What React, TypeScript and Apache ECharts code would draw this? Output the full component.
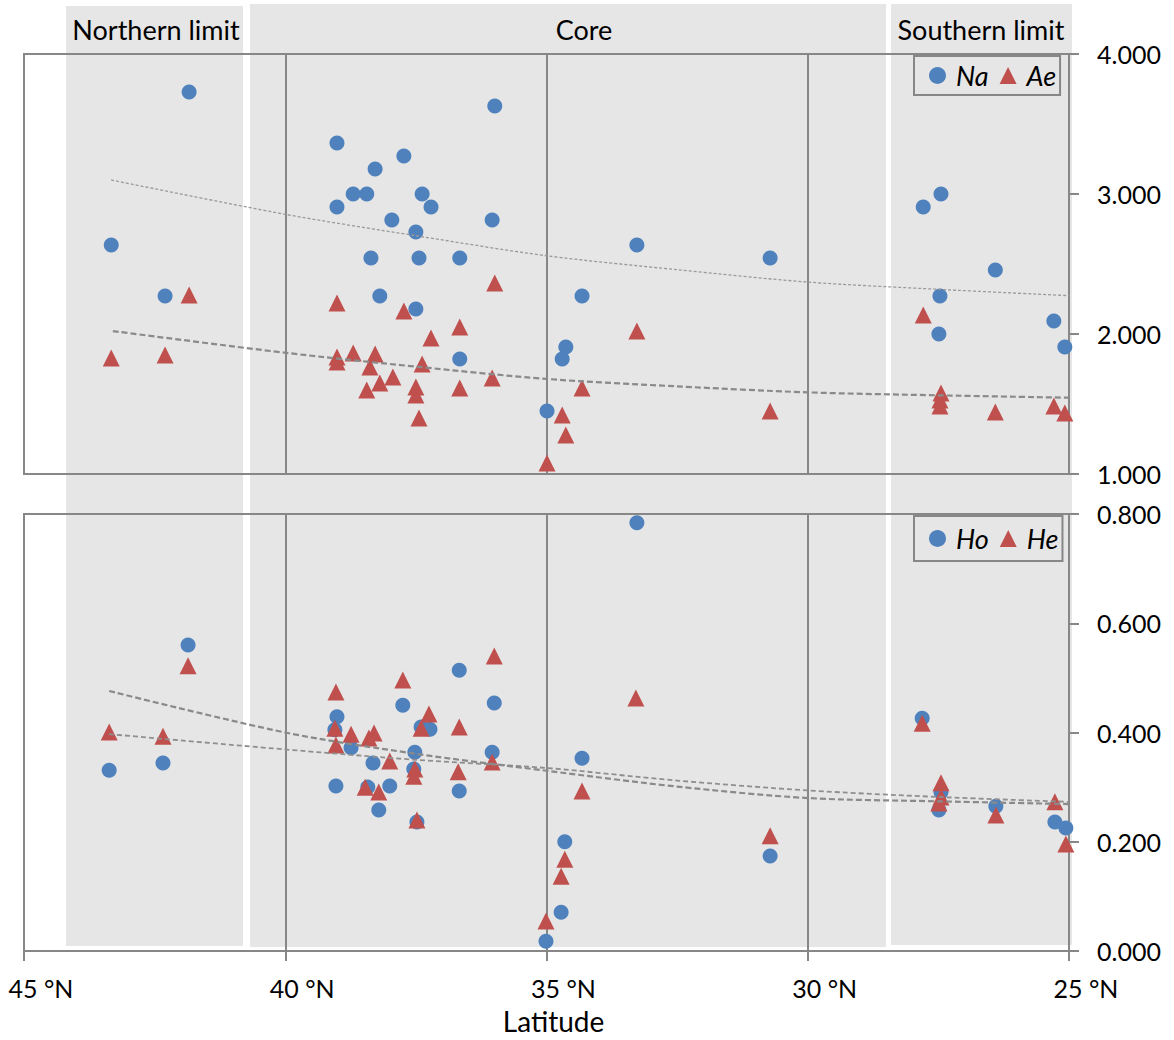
import React, { useEffect, useRef } from "react";
import * as echarts from "echarts";

// ---------- data (latitude °N, value) ----------
const naPoints: number[][] = [
  [43.33, 2.636], [42.3, 2.271], [41.84, 3.729], [39.01, 3.364], [39.01, 2.907],
  [38.7, 3.0], [38.44, 3.0], [38.28, 3.179], [38.36, 2.543], [38.19, 2.271],
  [37.96, 2.814], [37.73, 3.271], [37.5, 2.729], [37.44, 2.543], [37.5, 2.179],
  [37.38, 3.0], [37.21, 2.907], [36.66, 2.543], [36.66, 1.821], [35.99, 3.629],
  [36.04, 2.814], [34.99, 1.45], [34.7, 1.821], [34.63, 1.907], [34.32, 2.271],
  [33.27, 2.636], [30.72, 2.543], [27.79, 2.907], [27.45, 3.0], [27.47, 2.271],
  [27.49, 2.0], [26.41, 2.457], [25.29, 2.093], [25.08, 1.907],
];
const aePoints: number[][] = [
  [43.33, 1.829], [42.3, 1.85], [41.84, 2.279], [39.01, 2.221], [39.01, 1.836],
  [39.01, 1.8], [38.7, 1.864], [38.44, 1.6], [38.38, 1.764], [38.28, 1.857],
  [38.19, 1.65], [37.94, 1.693], [37.73, 2.164], [37.5, 1.621], [37.5, 1.564],
  [37.44, 1.4], [37.38, 1.786], [37.21, 1.971], [36.66, 2.05], [36.66, 1.614],
  [35.99, 2.364], [36.04, 1.686], [34.99, 1.079], [34.7, 1.421], [34.63, 1.279],
  [34.32, 1.614], [33.27, 2.021], [30.72, 1.45], [27.79, 2.136], [27.45, 1.579],
  [27.47, 1.529], [27.47, 1.486], [26.41, 1.443], [25.29, 1.486], [25.08, 1.436],
];
const hoPoints: number[][] = [
  [43.37, 0.331], [42.34, 0.344], [41.86, 0.56], [39.01, 0.429], [39.05, 0.405],
  [38.74, 0.372], [39.03, 0.302], [38.32, 0.344], [38.42, 0.3], [38.21, 0.258],
  [38.0, 0.302], [37.75, 0.45], [37.52, 0.364], [37.54, 0.333], [37.48, 0.236],
  [37.4, 0.41], [37.23, 0.406], [36.67, 0.514], [36.67, 0.293], [36.0, 0.454],
  [36.04, 0.364], [34.32, 0.353], [34.65, 0.2], [34.72, 0.071], [35.01, 0.018],
  [33.27, 0.784], [30.72, 0.174], [27.81, 0.426], [27.45, 0.291], [27.49, 0.258],
  [26.4, 0.265], [25.27, 0.236], [25.06, 0.225],
];
const hePoints: number[][] = [
  [43.37, 0.401], [42.34, 0.393], [41.86, 0.522], [39.03, 0.474], [39.05, 0.408],
  [39.03, 0.377], [38.74, 0.397], [38.4, 0.39], [38.3, 0.399], [38.47, 0.3],
  [38.21, 0.291], [38.0, 0.348], [37.75, 0.496], [37.52, 0.333], [37.54, 0.32],
  [37.48, 0.24], [37.4, 0.408], [37.25, 0.434], [36.67, 0.41], [36.69, 0.328],
  [36.0, 0.54], [36.04, 0.346], [34.32, 0.293], [34.65, 0.168], [34.72, 0.137],
  [35.01, 0.055], [33.29, 0.463], [30.72, 0.211], [27.81, 0.417], [27.45, 0.308],
  [27.45, 0.282], [27.49, 0.271], [26.4, 0.249], [25.27, 0.273], [25.06, 0.196],
];

// trend lines
const naTrend: number[][] = [
  [43.33, 3.1], [40, 2.855], [37.5, 2.702], [35, 2.559], [32.5, 2.459],
  [30, 2.371], [27.5, 2.319], [25, 2.274],
];
const aeTrend: number[][] = [
  [43.3, 2.021], [40, 1.866], [37.5, 1.767], [35, 1.679], [32.5, 1.626],
  [30, 1.583], [27.5, 1.562], [25, 1.545],
];
const hoTrend: number[][] = [
  [43.37, 0.397], [40, 0.369], [37.5, 0.35], [35, 0.335], [32.5, 0.312],
  [30, 0.294], [27.5, 0.282], [25, 0.273],
];
const heTrend: number[][] = [
  [43.37, 0.476], [40, 0.4], [37.5, 0.361], [35, 0.33], [32.5, 0.301],
  [30, 0.28], [27.5, 0.274], [25, 0.269],
];

const regionLabels = ["Northern limit", "Core", "Southern limit"];
const xTickSuffix = " °N";
const xAxisTitle = "Latitude";

const BLUE = "#4F81BD";
const RED = "#C0504D";
const AXIS = "#878787";
const SHADE = "#E6E6E6";
const FONT = "Lato, 'Noto Sans', sans-serif";

export default function App() {
  const ref = useRef<HTMLDivElement>(null);
  useEffect(() => {
    if (!ref.current) return;
    const chart = echarts.init(ref.current, null, { renderer: "svg" });

    const gridW = 1045;
    const xAxisBase = (gridIndex: number, bottom: boolean) => ({
      type: "value",
      gridIndex,
      min: 25,
      max: 45,
      interval: 5,
      inverse: true,
      axisLine: { show: true, lineStyle: { color: AXIS, width: 2 } },
      axisTick: bottom
        ? { show: true, length: 10, inside: false, lineStyle: { color: AXIS, width: 2 } }
        : { show: false },
      splitLine: { show: true, lineStyle: { color: AXIS, width: 2 } },
      axisLabel: bottom
        ? {
            show: true,
            formatter: (v: number) => `${v}${xTickSuffix}`,
            color: "#000",
            fontSize: 25,
            fontFamily: FONT,
            margin: 24,
            padding: [0, 0, 0, 34],
          }
        : { show: false },
      name: bottom ? xAxisTitle : "",
      nameLocation: "middle",
      nameGap: 56,
      nameTextStyle: { color: "#000", fontSize: 28, fontFamily: FONT, padding: [0, 0, 0, 14] },
    });

    const yAxisBase = (gridIndex: number, min: number, max: number, interval: number) => ({
      type: "value",
      gridIndex,
      position: "right",
      min,
      max,
      interval,
      axisLine: { show: true, lineStyle: { color: AXIS, width: 2 } },
      axisTick: { show: true, length: 10, inside: false, lineStyle: { color: AXIS, width: 2 } },
      splitLine: { show: false },
      axisLabel: {
        formatter: (v: number) => v.toFixed(3),
        color: "#000",
        fontSize: 25,
        fontFamily: FONT,
        margin: 28,
      },
    });

    const scatter = (name: string, data: number[][], idx: number, tri: boolean) => ({
      name,
      type: "scatter",
      xAxisIndex: idx,
      yAxisIndex: idx,
      data,
      symbol: tri ? "triangle" : "circle",
      symbolSize: tri ? 17 : 15,
      itemStyle: { color: tri ? RED : BLUE, opacity: 1 },
      z: tri ? 3 : 2,
    });

    const trend = (name: string, data: number[][], idx: number, width: number, dash: number[], color: string) => ({
      name,
      type: "line",
      xAxisIndex: idx,
      yAxisIndex: idx,
      data,
      smooth: 0.3,
      showSymbol: false,
      symbol: "none",
      silent: true,
      lineStyle: { color, width, type: dash },
      z: 5,
    });

    const legendBase = (data: string[], top: number, height: number) => ({
      data: data.map((n) => ({ name: n })),
      left: 914,
      top,
      orient: "horizontal",
      itemWidth: 17,
      itemHeight: 17,
      itemGap: 11,
      padding: [Math.round((height - 30) / 2), 4, Math.round((height - 30) / 2), 15],
      borderColor: AXIS,
      borderWidth: 2,
      textStyle: { color: "#000", fontSize: 27, fontStyle: "italic", fontFamily: FONT, padding: [0, 0, 0, 5] },
      selectedMode: false,
    });

    const option: any = {
      animation: false,
      backgroundColor: "#fff",
      grid: [
        { left: 24, top: 54, width: gridW, height: 420, show: true, borderColor: AXIS, borderWidth: 2, backgroundColor: "transparent" },
        { left: 24, top: 514, width: gridW, height: 437, show: true, borderColor: AXIS, borderWidth: 2, backgroundColor: "transparent" },
      ],
      xAxis: [xAxisBase(0, false), xAxisBase(1, true)],
      yAxis: [yAxisBase(0, 1, 4, 1), yAxisBase(1, 0, 0.8, 0.2)],
      legend: [legendBase(["Na", "Ae"], 56, 41), legendBase(["Ho", "He"], 516, 47)],
      graphic: [
        { type: "rect", z: -100, shape: { x: 66, y: 6, width: 177, height: 940 }, style: { fill: SHADE } },
        { type: "rect", z: -100, shape: { x: 250, y: 4, width: 636, height: 943 }, style: { fill: SHADE } },
        { type: "rect", z: -100, shape: { x: 891, y: 4, width: 181, height: 941 }, style: { fill: SHADE } },
        { type: "text", z: 10, x: 156, y: 29, style: { text: regionLabels[0], fill: "#000", fontSize: 27, fontFamily: FONT, align: "center", verticalAlign: "middle" } },
        { type: "text", z: 10, x: 584, y: 29, style: { text: regionLabels[1], fill: "#000", fontSize: 27, fontFamily: FONT, align: "center", verticalAlign: "middle" } },
        { type: "text", z: 10, x: 981, y: 29, style: { text: regionLabels[2], fill: "#000", fontSize: 27, fontFamily: FONT, align: "center", verticalAlign: "middle" } },
      ],
      series: [
        scatter("Na", naPoints, 0, false),
        scatter("Ae", aePoints, 0, true),
        trend("Na trend", naTrend, 0, 1.3, [3, 2], "#9a9a9a"),
        trend("Ae trend", aeTrend, 0, 2.2, [6, 3], "#8a8a8a"),
        scatter("Ho", hoPoints, 1, false),
        scatter("He", hePoints, 1, true),
        trend("Ho trend", hoTrend, 1, 1.8, [5, 3], "#8f8f8f"),
        trend("He trend", heTrend, 1, 2.2, [6, 3], "#8a8a8a"),
      ],
    };
    chart.setOption(option);
    return () => chart.dispose();
  }, []);

  return (
    <div
      ref={ref}
      style={{ position: "fixed", left: 0, top: 0, width: 1174, height: 1040, background: "#fff" }}
    />
  );
}
